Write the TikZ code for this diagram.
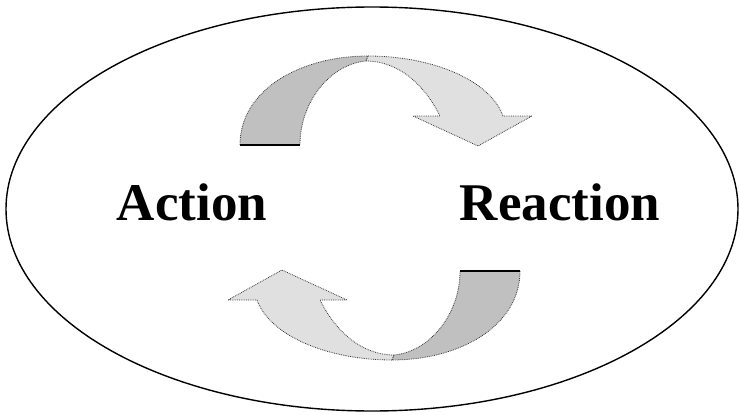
\documentclass[tikz,border=0pt]{standalone}
\usepackage{fontspec}
\setmainfont{Liberation Serif}
\usepackage{tikz}
\usetikzlibrary{positioning}
\definecolor{back}{HTML}{C0C0C0}
\definecolor{front}{HTML}{E0E0E0}
\definecolor{rim}{HTML}{383838}
\tikzset{
  ring/.style  = {draw=black, line width=1.4pt},
  word/.style  = {font=\fontsize{53}{60}\selectfont\bfseries, inner sep=0pt, anchor=base},
  backpart/.style  = {fill=back, draw=rim, densely dotted, line width=0.8pt},
  frontpart/.style = {fill=front, draw=rim, densely dotted, line width=0.8pt},
  foot/.style  = {draw=black, line width=1.4pt},
}
\begin{document}
\begin{tikzpicture}[x=1pt,y=-1pt]
    \useasboundingbox (0,0) rectangle (740,415);
    \draw[ring] (372,209) ellipse [x radius=366, y radius=202];
    \foreach \r in {0,180}{
      \begin{scope}[rotate around={\r:(380,208)}]
        \path[backpart] (240,145) .. controls (240,90) and (300,56) .. (368,56)
          -- (366,61) .. controls (332,64) and (300,100) .. (300,145) -- cycle;
        \path[frontpart] (368,56) .. controls (432,56) and (490,80) .. (503,116)
          -- (532,116) -- (478,146) -- (413,116) -- (440,116)
          .. controls (424,84) and (398,61) .. (366,61) -- cycle;
        \draw[foot] (240,145) -- (300,145);
      \end{scope}}
    \node[word] (act) at (192,220) {Action};
    \node[word] (react) at (560,220) {Reaction};
\end{tikzpicture}
\end{document}
